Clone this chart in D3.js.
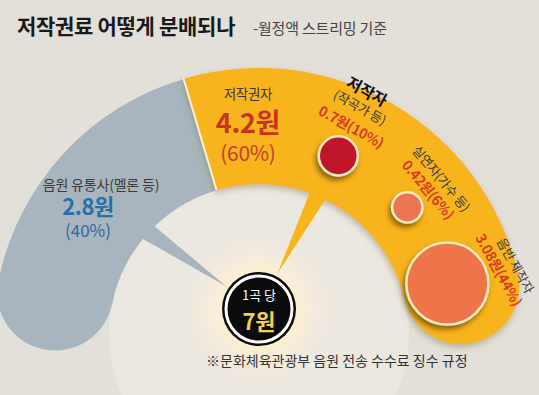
<!DOCTYPE html>
<html>
<head>
<meta charset="utf-8">
<script src="https://cdn.jsdelivr.net/npm/d3@7"></script>
<style>
  body { margin: 0; background: #e3dfd9; }
  svg { display: block; font-family: "Noto Sans CJK KR", "Noto Sans", sans-serif; }
</style>
</head>
<body>
<div id="chart"></div>
<script>
// main split of 7 won per song
const shareNames = ["음원 유통사(멜론 등)", "저작권자"];
const shareValues = [2.8, 4.2];
const sharePcts = [40, 60];

// how the 저작권자 part is split
const subNames = ["저작자", "실연자", "음반 제작자"];
const subNotes = ["(작곡가 등)", "(가수 등)", ""];
const subValues = [0.7, 0.42, 3.08];
const subPcts = [10, 6, 44];

const totalPerSong = 7;

// layout
const W = 539, H = 395;
const cx = 259, cy = 334;          // centre of the big arc
const rOuter = 266, rInner = 150;
const hub = { x: 259, y: 309, r: 37 };
const deg = Math.PI / 180;

const svg = d3.select("#chart").append("svg")
    .attr("width", W)
    .attr("height", H);

const defs = svg.append("defs");

const glow = defs.append("radialGradient").attr("id", "glow");
glow.append("stop").attr("offset", "0%").attr("stop-color", "#fff0bf").attr("stop-opacity", 1);
glow.append("stop").attr("offset", "50%").attr("stop-color", "#fbefd6").attr("stop-opacity", 0.85);
glow.append("stop").attr("offset", "100%").attr("stop-color", "#ece7e0").attr("stop-opacity", 0);

const shadow = defs.append("filter").attr("id", "shadow")
    .attr("x", "-40%").attr("y", "-40%").attr("width", "180%").attr("height", "180%");
shadow.append("feDropShadow")
    .attr("dx", -2).attr("dy", 4).attr("stdDeviation", 2.5)
    .attr("flood-color", "#3a2a00").attr("flood-opacity", 0.55);

const bandShadow = defs.append("filter").attr("id", "bandShadow")
    .attr("x", "-20%").attr("y", "-20%").attr("width", "140%").attr("height", "140%");
bandShadow.append("feDropShadow")
    .attr("dx", -1).attr("dy", 3).attr("stdDeviation", 3)
    .attr("flood-color", "#6b5320").attr("flood-opacity", 0.35);

// background
svg.append("rect").attr("width", W).attr("height", H).attr("fill", "#e3dfd9");

// helpers
const pt = (a, r) => [cx + r * Math.sin(a), cy - r * Math.cos(a)];

// big arc split 40 / 60
const pie = d3.pie().sort(null)
    .startAngle(-78.5 * deg)
    .endAngle(76.6 * deg);
const slices = pie(shareValues);
const colors = ["#a8b5be", "#f8b41b"];

const arc = d3.arc().innerRadius(rInner).outerRadius(rOuter);
const rMid = (rInner + rOuter) / 2, capR = (rOuter - rInner) / 2;

// lighter inner area
svg.append("circle")
    .attr("cx", cx).attr("cy", cy).attr("r", rInner)
    .attr("fill", "#ebe7e1");
svg.append("circle")
    .attr("cx", hub.x).attr("cy", hub.y).attr("r", 90)
    .attr("fill", "url(#glow)");

const bands = svg.append("g");

slices.forEach((s, i) => {
    const g = bands.append("g").attr("filter", i === 1 ? "url(#bandShadow)" : null);
    g.append("path")
        .attr("transform", `translate(${cx},${cy})`)
        .attr("d", arc(s))
        .attr("fill", colors[i]);
    // rounded outer end of each band
    const capAngle = i === 0 ? s.startAngle : s.endAngle;
    const [capX, capY] = pt(capAngle, rMid);
    g.append("circle")
        .attr("cx", capX).attr("cy", capY).attr("r", capR)
        .attr("fill", colors[i]);
    // pointer to the hub
    const mid = (s.startAngle + s.endAngle) / 2 - (i === 1 ? 7 * deg : 0);
    const b1 = pt(mid - 3.3 * deg, rInner + 2);
    const b2 = pt(mid + 3.3 * deg, rInner + 2);
    const bm = pt(mid, rInner);
    const dx = bm[0] - hub.x, dy = bm[1] - hub.y, len = Math.hypot(dx, dy);
    const tip = [hub.x + dx / len * (hub.r + 3), hub.y + dy / len * (hub.r + 3)];
    bands.append("path")
        .attr("d", d3.line()([b1, b2, tip]) + "Z")
        .attr("fill", colors[i]);
});

// thin light divider between the two bands
const splitAngle = slices[0].endAngle;
svg.append("line")
    .attr("x1", pt(splitAngle, rInner)[0]).attr("y1", pt(splitAngle, rInner)[1])
    .attr("x2", pt(splitAngle, rOuter + 1)[0]).attr("y2", pt(splitAngle, rOuter + 1)[1])
    .attr("stroke", "#f6efdf").attr("stroke-width", 2);

// sub circles, area ~ value
const rScale = d3.scaleSqrt().domain([0, d3.max(subValues)]).range([0, 41]);
const angScale = d3.scalePoint().domain(subNames).range([24, 75]);
const subDist = 195;
const tilt = [29, 50, 61];

const subs = svg.append("g");
const subColors = ["#c0172b", "#ec7452", "#ed7449"];

subNames.forEach((name, i) => {
    const a = angScale(name) * deg;
    const [x, y] = pt(a, subDist);
    subs.append("circle")
        .attr("cx", x).attr("cy", y).attr("r", rScale(subValues[i]))
        .attr("fill", subColors[i])
        .attr("stroke", "#fbeac0").attr("stroke-width", 2.5)
        .attr("filter", "url(#shadow)");

    // labels outward of the circle, turned along the arc
    const edge = subDist + rScale(subValues[i]);
    const lines = [];
    lines.push({ r: edge + 13, text: `${subValues[i]}원(${subPcts[i]}%)`, size: 14, weight: "bold", fill: "#d63c1f" });
    if (i === 0) {
        lines.push({ r: edge + 34, text: subNotes[i], size: 13, weight: "normal", fill: "#3a3a3a" });
        lines.push({ r: edge + 52, text: name, size: 16, weight: "bold", fill: "#111" });
    } else {
        lines.push({ r: edge + 30, text: name + subNotes[i], size: 13, weight: "normal", fill: "#3a3a3a" });
    }
    lines.forEach(l => {
        const [lx, ly] = pt(a, l.r);
        subs.append("text")
            .attr("transform", `translate(${lx},${ly}) rotate(${tilt[i]})`)
            .attr("text-anchor", "middle")
            .attr("dominant-baseline", "central")
            .attr("font-size", l.size)
            .attr("font-weight", l.weight)
            .attr("fill", l.fill)
            .attr("letter-spacing", -0.3)
            .text(l.text);
    });
});

// main labels
const lab = svg.append("g").attr("text-anchor", "middle");
lab.append("text").attr("x", 248).attr("y", 99)
    .attr("font-size", 13.5).attr("fill", "#3a3a3a").attr("letter-spacing", -0.3)
    .text(shareNames[1]);
lab.append("text").attr("x", 248).attr("y", 133)
    .attr("font-size", 27).attr("font-weight", "bold").attr("fill", "#c8351e").attr("letter-spacing", -0.3)
    .text(`${shareValues[1]}원`);
lab.append("text").attr("x", 248).attr("y", 161)
    .attr("font-size", 21).attr("fill", "#c2402a").attr("letter-spacing", -0.3)
    .text(`(${sharePcts[1]}%)`);

lab.append("text").attr("x", 101).attr("y", 190)
    .attr("font-size", 14).attr("fill", "#3a3a3a").attr("letter-spacing", -0.2)
    .text(shareNames[0]);
lab.append("text").attr("x", 88).attr("y", 215)
    .attr("font-size", 22).attr("font-weight", "bold").attr("fill", "#2470a8").attr("letter-spacing", -0.5)
    .text(`${shareValues[0]}원`);
lab.append("text").attr("x", 88).attr("y", 237)
    .attr("font-size", 17).attr("fill", "#2d6ba2")
    .text(`(${sharePcts[0]}%)`);

// hub
const hubG = svg.append("g").attr("text-anchor", "middle");
hubG.append("circle").attr("cx", hub.x).attr("cy", hub.y).attr("r", hub.r).attr("fill", "#0b0b0b");
hubG.append("circle").attr("cx", hub.x).attr("cy", hub.y).attr("r", hub.r - 4)
    .attr("fill", "#0b0b0b").attr("stroke", "#fff").attr("stroke-width", 3);
hubG.append("text").attr("x", hub.x).attr("y", hub.y - 9)
    .attr("font-size", 13).attr("fill", "#fff")
    .text("1곡 당");
hubG.append("text").attr("x", hub.x).attr("y", hub.y + 21)
    .attr("font-size", 22).attr("font-weight", "bold").attr("fill", "#f4d04c")
    .text(`${totalPerSong}원`);

// title
svg.append("text").attr("x", 17).attr("y", 34)
    .attr("font-size", 21).attr("font-weight", "bold").attr("fill", "#1a1a1a").attr("letter-spacing", -0.3)
    .text("저작권료 어떻게 분배되나");
svg.append("text").attr("x", 253).attr("y", 34)
    .attr("font-size", 15).attr("fill", "#444").attr("letter-spacing", -0.2)
    .text("-월정액 스트리밍 기준");

// footnote
svg.append("text").attr("x", 206).attr("y", 366)
    .attr("font-size", 14).attr("fill", "#333")
    .text("※문화체육관광부 음원 전송 수수료 징수 규정");
</script>
</body>
</html>
